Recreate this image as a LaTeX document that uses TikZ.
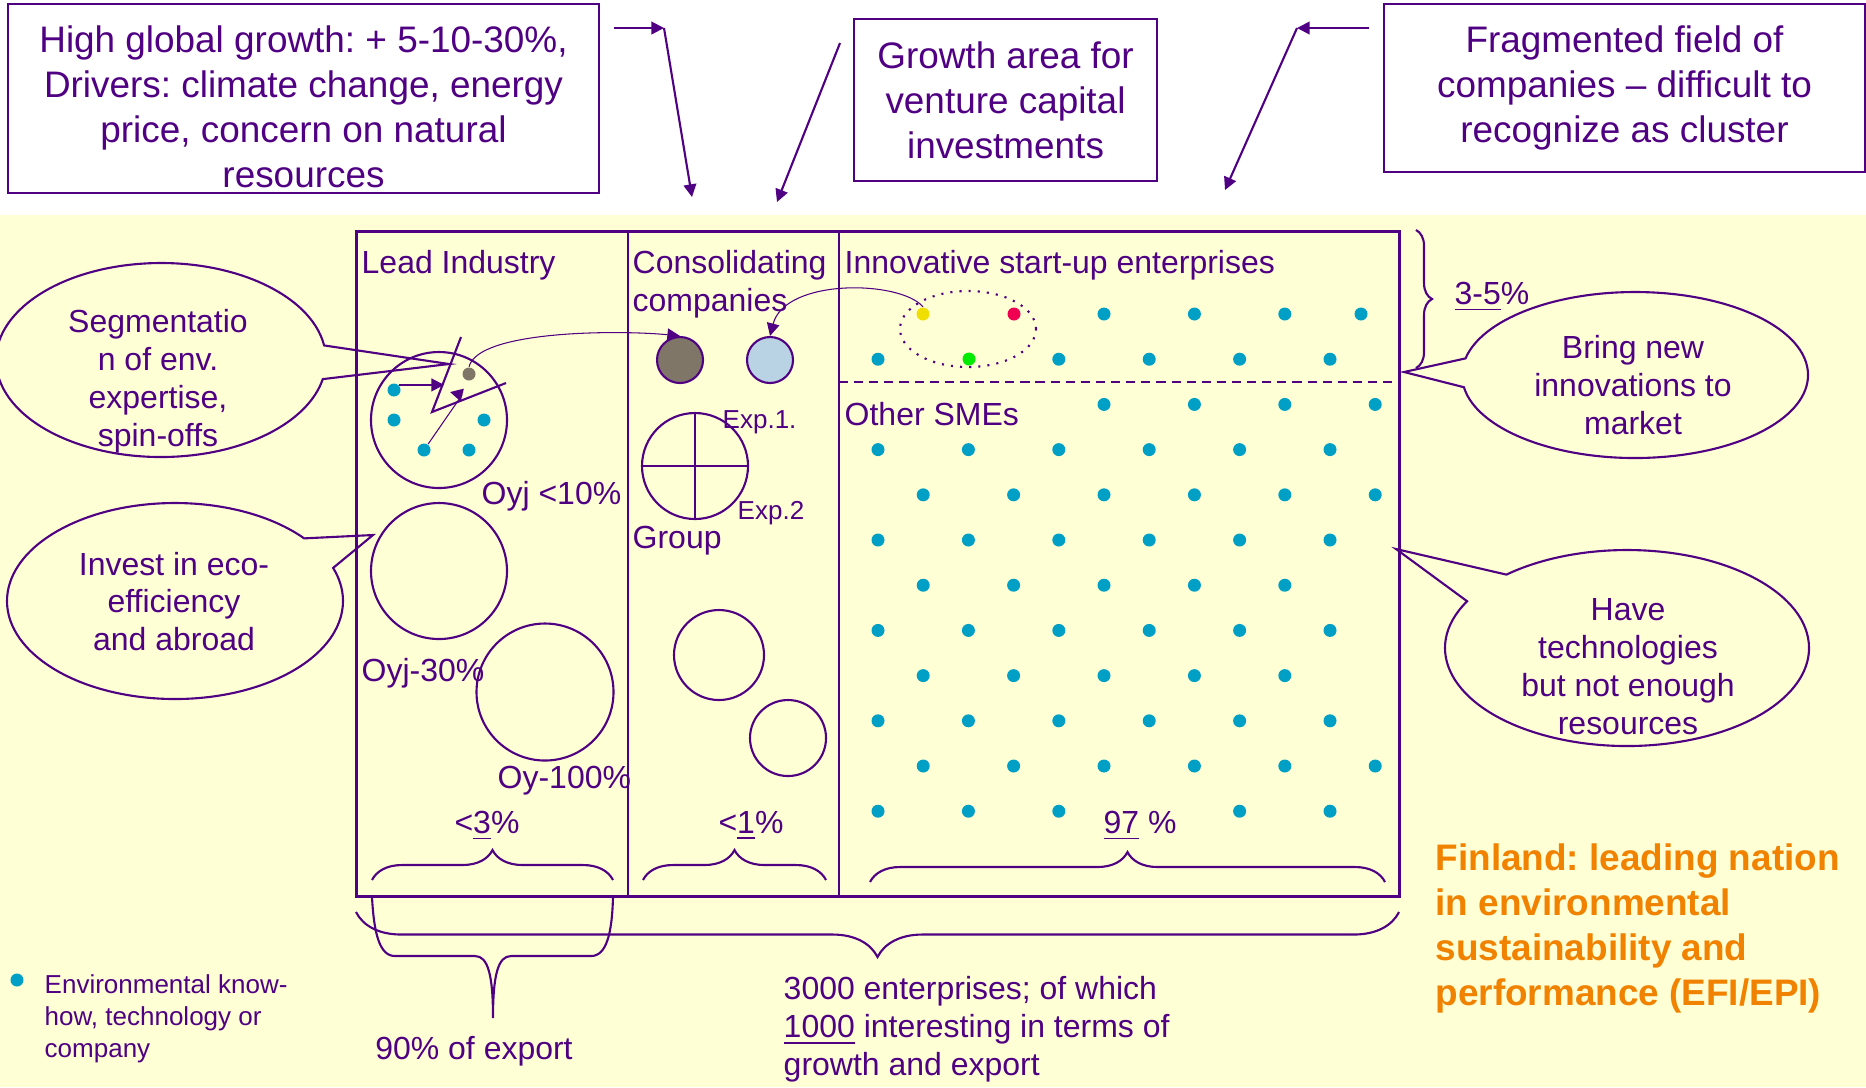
\documentclass[tikz,border=0pt]{standalone}
\usepackage{fontspec}
\setmainfont{Liberation Sans}
\usetikzlibrary{arrows.meta,shapes.geometric,shapes.callouts,decorations.pathreplacing}
\frenchspacing

\definecolor{ink}{RGB}{80,0,130}
\definecolor{paleyellow}{RGB}{255,255,213}
\definecolor{envcyan}{RGB}{0,160,198}
\definecolor{oygrey}{RGB}{128,118,104}
\definecolor{lightblue}{RGB}{185,211,228}
\definecolor{startyellow}{RGB}{240,222,0}
\definecolor{startred}{RGB}{240,0,80}
\definecolor{startgreen}{RGB}{0,235,0}
\definecolor{finorange}{RGB}{240,130,0}

\newcommand\txttop{\fontsize{10.5pt}{12.8pt}\selectfont}
\newcommand\txtbody{\fontsize{9.1pt}{10.8pt}\selectfont}
\newcommand\txtsmall{\fontsize{7.4pt}{9.1pt}\selectfont}

\tikzset{
  infobox/.style={draw=ink, line width=0.7pt, fill=white, text=ink, font=\txttop, align=center, inner sep=0pt},
  bubble/.style={ellipse callout, draw=ink, line width=0.6pt, callout pointer arc=20, inner sep=0pt},
  lbl/.style={text=ink, font=\txtbody, inner sep=0pt},
  cdot/.style={circle, fill=#1, inner sep=0pt, minimum size=0.13cm},
  ring/.style={circle, draw=ink, line width=0.6pt, inner sep=0pt},
  arr/.style={ink, line width=0.6pt, -{Triangle[length=3.6pt,width=3.6pt]}},
  fine/.style={ink, line width=0.3pt},
  bracket/.style={ink, line width=0.6pt, decorate, decoration={brace, amplitude=#1}},
}

\begin{document}
\begin{tikzpicture}
  \useasboundingbox (0,0) rectangle (18.66,-10.87);
  \fill[white] (0,0) rectangle (18.66,-2.15);
  \fill[paleyellow] (0,-2.15) rectangle (18.66,-10.87);

  % top boxes
  \node[infobox, minimum width=5.91cm, minimum height=1.89cm] (growth) at (3.035,-0.985)
    {\rule{0pt}{0.43cm}High global growth: + 5-10-30\%,\\Drivers: climate change, energy\\price, concern on natural\\resources};
  \node[infobox, minimum width=3.03cm, minimum height=1.62cm] (venture) at (10.055,-1.00)
    {Growth area for\\venture capital\\investments};
  \node[infobox, minimum width=4.81cm, minimum height=1.68cm] (fragment) at (16.245,-0.88)
    {Fragmented field of\\companies – difficult to\\recognize as cluster};

  \coordinate (growthA) at (6.14,-0.28);
  \coordinate (growthB) at (6.64,-0.28);
  \coordinate (growthC) at (6.92,-1.97);
  \draw[arr] (growthA) -- (growthB);
  \draw[arr] (growthB) -- (growthC);
  \coordinate (ventureA) at (8.40,-0.43);
  \coordinate (ventureB) at (7.77,-2.02);
  \draw[arr] (ventureA) -- (ventureB);
  \coordinate (fragA) at (13.69,-0.28);
  \coordinate (fragB) at (12.97,-0.28);
  \coordinate (fragC) at (12.25,-1.90);
  \draw[arr] (fragA) -- (fragB);
  \draw[arr] (fragB) -- (fragC);

  % the field
  \draw[ink, line width=0.85pt] (3.56,-2.31) rectangle (13.99,-8.96);
  \draw[ink, line width=0.5pt] (6.28,-2.31) -- (6.28,-8.96);
  \draw[ink, line width=0.5pt] (8.39,-2.31) -- (8.39,-8.96);
  \draw[ink, line width=0.6pt, dash pattern=on 2.6pt off 1.7pt] (8.39,-3.82) -- (13.99,-3.82);

  \node[lbl, anchor=base west] (leadhd) at (3.61,-2.73) {Lead Industry};
  \node[lbl, anchor=west, align=left] (conshd) at (6.32,-2.84) {Consolidating\\companies};
  \node[lbl, anchor=base west] (innohd) at (8.44,-2.73) {Innovative start-up enterprises};
  \node[lbl, anchor=base west] (smehd) at (8.44,-4.25) {Other SMEs};

  % lead industry
  \node[ring, minimum size=1.36cm] (oyj1) at (4.39,-4.20) {};
  \node[ring, minimum size=1.36cm] (oyj2) at (4.39,-5.71) {};
  \node[ring, minimum size=1.37cm] (oy3) at (5.45,-6.92) {};
  \node[lbl, anchor=base west] (oyj1lbl) at (4.81,-5.04) {Oyj <10\%};
  \node[lbl, anchor=base west] (oyj2lbl) at (3.61,-6.81) {Oyj-30\%};
  \node[lbl, anchor=base west] (oy3lbl) at (4.97,-7.88) {Oy-100\%};

  \node[cdot=envcyan] (dA) at (3.94,-3.90) {};
  \node[cdot=envcyan] (dB) at (3.94,-4.20) {};
  \node[cdot=envcyan] (dC) at (4.84,-4.20) {};
  \node[cdot=envcyan] (dD) at (4.24,-4.50) {};
  \node[cdot=envcyan] (dE) at (4.69,-4.50) {};
  \node[cdot=oygrey] (gdot) at (4.69,-3.74) {};
  \draw[ink, line width=0.6pt] (4.61,-3.37) -- (4.32,-4.12) -- (5.06,-3.83);
  \draw[arr] (dA.north east) -- ++(0.45,0);
  \coordinate (swap) at (4.62,-3.95);
  \draw[fine] (dD) -- (swap);
  \draw[arr] (swap) -- (4.50,-3.92);

  % consolidating
  \node[circle, draw=ink, line width=0.6pt, fill=oygrey, minimum size=0.46cm, inner sep=0pt] (darkc) at (6.80,-3.60) {};
  \node[circle, draw=ink, line width=0.6pt, fill=lightblue, minimum size=0.46cm, inner sep=0pt] (bluec) at (7.70,-3.60) {};
  \node[ring, minimum size=1.06cm] (grp) at (6.95,-4.66) {};
  \draw[ink, line width=0.6pt] (grp.north) -- (grp.south);
  \draw[ink, line width=0.6pt] (grp.west) -- (grp.east);
  \node[lbl, font=\txtsmall, anchor=base west] (exp1) at (7.22,-4.28) {Exp.1.};
  \node[lbl, font=\txtsmall, anchor=base west] (exp2) at (7.37,-5.19) {Exp.2};
  \node[lbl, anchor=base west] (grplbl) at (6.32,-5.48) {Group};
  \node[ring, minimum size=0.90cm] (cons1) at (7.19,-6.55) {};
  \node[ring, minimum size=0.76cm] (cons2) at (7.88,-7.38) {};

  % start-ups and SMEs
  \draw[ink, line width=0.6pt, dotted] (9.68,-3.29) ellipse (0.68 and 0.38);
  \node[cdot=startyellow] (ydot) at (9.23,-3.14) {};
  \node[cdot=startred] (rdot) at (10.14,-3.14) {};
  \node[cdot=startgreen] (gndot) at (9.69,-3.59) {};
  \foreach \k in {5,7,9} \fill[envcyan] (8.78+0.452*\k,-3.14) circle (0.065);
  \fill[envcyan] (13.61,-3.14) circle (0.065);
  \foreach \j/\ks in {1/{0,4,6,8,10}, 2/{5,7,9,11}, 3/{0,2,4,6,8,10}, 4/{1,3,5,7,9,11},
      5/{0,2,4,6,8,10}, 6/{1,3,5,7,9}, 7/{0,2,4,6,8,10}, 8/{1,3,5,7,9},
      9/{0,2,4,6,8,10}, 10/{1,3,5,7,9,11}, 11/{0,2,4,8,10}}
    \foreach \k in \ks
      \fill[envcyan] (8.78+0.452*\k,-3.14-0.452*\j) circle (0.065);

  % spin-off and acquisition flows
  \draw[fine, -{Triangle[length=3.6pt,width=3.6pt]}] (gdot.north) .. controls (4.78,-3.30) and (6.2,-3.30) .. (darkc.north);
  \draw[fine, -{Triangle[length=3.6pt,width=3.6pt]}] (ydot.north) .. controls (9.0,-2.80) and (7.85,-2.78) .. (bluec.north);

  % shares
  \node[lbl, anchor=base] (lead3) at (4.87,-8.33) {<\underline{3}\%};
  \node[lbl, anchor=base] (cons1p) at (7.51,-8.33) {<\underline{1}\%};
  \node[lbl, anchor=base] (sme97) at (11.40,-8.33) {\underline{97} \%};
  \draw[bracket=0.30cm] (3.72,-8.80) -- (6.13,-8.80);
  \draw[bracket=0.30cm] (6.43,-8.80) -- (8.26,-8.80);
  \draw[bracket=0.30cm] (8.70,-8.82) -- (13.85,-8.82);
  \draw[bracket=0.16cm] (14.16,-2.30) -- (14.16,-3.68);
  \node[lbl, anchor=base] (start35) at (14.92,-3.04) {\underline{3-5}\%};
  \draw[bracket=0.45cm] (13.99,-9.12) -- (3.56,-9.12);
  \draw[ink, line width=0.6pt] (3.72,-8.97) .. controls (3.74,-9.35) and (3.80,-9.56) .. (3.95,-9.56)
    -- (4.75,-9.56) .. controls (4.88,-9.56) and (4.93,-9.75) .. (4.93,-10.18)
    .. controls (4.93,-9.75) and (4.98,-9.56) .. (5.11,-9.56) -- (5.91,-9.56)
    .. controls (6.06,-9.56) and (6.12,-9.35) .. (6.13,-8.97);
  \node[lbl, anchor=base] (export) at (4.74,-10.59) {90\% of export};
  \node[lbl, anchor=north west, align=left] (total) at (7.83,-9.76)
    {3000 enterprises; of which\\\underline{1000} interesting in terms of\\growth and export};

  % callouts
  \node[bubble, minimum width=3.30cm, minimum height=1.94cm, callout absolute pointer={(4.49,-3.64)}] (segcall) at (1.61,-3.60) {};
  \node[lbl, align=center] (segtxt) at (1.58,-3.815) {Segmentatio\\n of env.\\expertise,\\spin-offs};
  \node[bubble, minimum width=3.36cm, minimum height=1.96cm, callout absolute pointer={(3.73,-5.35)}] (invcall) at (1.75,-6.01) {};
  \node[lbl, align=center] (invtxt) at (1.74,-6.015) {Invest in eco-\\efficiency\\and abroad};
  \node[bubble, minimum width=3.46cm, minimum height=1.66cm, callout absolute pointer={(14.04,-3.72)}] (bringcall) at (16.35,-3.75) {};
  \node[lbl, align=center] (bringtxt) at (16.33,-3.85) {Bring new\\innovations to\\market};
  \node[bubble, minimum width=3.64cm, minimum height=1.96cm, callout absolute pointer={(13.96,-5.49)}] (havecall) at (16.27,-6.48) {};
  \node[lbl, align=center] (havetxt) at (16.28,-6.67) {Have\\technologies\\but not enough\\resources};

  % legend and conclusion
  \node[cdot=envcyan] (legdot) at (0.17,-9.80) {};
  \node[lbl, font=\txtsmall, anchor=north west, align=left] (legtxt) at (0.44,-9.74)
    {Environmental know-\\how, technology or\\company};
  \node[anchor=north west, align=left, inner sep=0pt, text=finorange, font=\txttop\bfseries] (finland) at (14.35,-8.43)
    {Finland: leading nation\\in environmental\\sustainability and\\performance (EFI/EPI)};
\end{tikzpicture}
\end{document}
